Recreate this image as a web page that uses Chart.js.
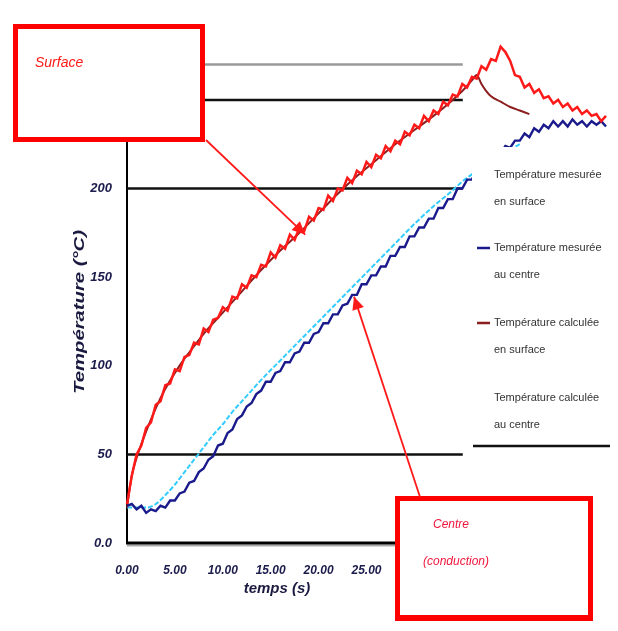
<!DOCTYPE html>
<html>
<head>
<meta charset="utf-8">
<script src="https://cdn.jsdelivr.net/npm/chart.js@4/dist/chart.umd.min.js"></script>
<style>
	body { margin: 0; background: #fff; }
	canvas { display: block; }
</style>
</head>
<body>
<canvas id="graph" width="618" height="631"></canvas>
<script>
// temps (s) des mesures
const tempsMes = [0,0.5,1,1.5,2,2.5,3,3.5,4,4.5,5,5.5,6,6.5,7,7.5,8,8.5,9,9.5,
	10,10.5,11,11.5,12,12.5,13,13.5,14,14.5,15,15.5,16,16.5,17,17.5,18,18.5,19,19.5,
	20,20.5,21,21.5,22,22.5,23,23.5,24,24.5,25,25.5,26,26.5,27,27.5,28,28.5,29,29.5,
	30,30.5,31,31.5,32,32.5,33,33.5,34,34.5,35,35.5,36,36.5,37,37.5,38,38.5,39,39.5,
	40,40.5,41,41.5,42,42.5,43,43.5,44,44.5,45,45.5,46,46.5,47,47.5,48,48.5,49,49.5,50,50.5];
const surfaceMesuree = [22,38,50,55,65,68,78,80,89,90,98,97,105,106,113,112,121,119,126,127,
	133,131,139,138,146,144,151,150,157,156,164,161,168,166,174,171,178,176,184,182,
	189,188,196,193,200,199,206,203,210,208,215,212,219,217,224,221,227,225,232,230,
	236,234,241,238,244,242,249,247,253,252,259,257,263,262,269,267,273,272,280,277,
	272,264,263,257,259,254,256,251,252,248,250,246,248,244,246,242,244,241,242,238,241,239];
const centreMesure = [21,22,19,21,17,19,18,21,20,24,24,28,29,34,35,40,42,47,49,55,
	56,62,64,70,72,77,79,84,86,91,91,96,97,102,102,107,108,113,113,118,
	119,124,124,129,129,134,135,140,140,146,146,151,151,156,156,162,162,167,167,173,
	173,178,178,183,183,189,189,194,194,200,200,205,205,211,211,216,216,220,220,224,
	223,227,227,231,229,234,232,236,234,238,235,238,235,239,236,238,235,238,236,238,235,237];

const tempsCalcSurface = [0,0.5,1,2,3,4,5,6,7,8,10,12,14,16,18,20,22,24,26,28,30,32,34,35,36,36.5,37,37.5,38,39,40,41,42];
const surfaceCalculee = [20,38,48,63,76,87,96,104,111,118,130,142,154,165,175,186,197,207,216,225,233,241,250,255,261,264,259,255,252,249,246,244,242];

const tempsCalcCentre = [0,1,2,3,4,5,6,7,8,9,10,11,12,13,14,16,18,20,22,24,26,28,30,32,34,35,36,38,40,41];
const centreCalcule = [20,20,20,22,27,33,40,47,54,61,67,74,80,86,92,103,114,125,136,147,158,169,180,190,199,204,208,216,222,225];

const yTicks = [0,50,100,150,200,250];
const lignesNoires = [50,200,250];
const ligneGrise = 270;
const finLignes = 35.05;

const legendeTextes = [
	['Température mesurée', 'en surface'],
	['Température mesurée', 'au centre'],
	['Température calculée', 'en surface'],
	['Température calculée', 'au centre'],
];

const pts = (xs, ys) => xs.map((x, i) => ({x: x, y: ys[i]}));

const tickColor = '#1c1c4c';
const boxRed = '#ff0000';

function arrow(ctx, x0, y0, x1, y1) {
	ctx.beginPath();
	ctx.moveTo(x0, y0);
	ctx.lineTo(x1, y1);
	ctx.stroke();
	let a = Math.atan2(y1 - y0, x1 - x0);
	let len = 13, w = 6;
	ctx.beginPath();
	ctx.moveTo(x1, y1);
	ctx.lineTo(x1 - len*Math.cos(a) + w*Math.sin(a), y1 - len*Math.sin(a) - w*Math.cos(a));
	ctx.lineTo(x1 - len*Math.cos(a) - w*Math.sin(a), y1 - len*Math.sin(a) + w*Math.cos(a));
	ctx.closePath();
	ctx.fill();
}

const decor = {
	id: 'decor',
	beforeDatasetsDraw(chart) {
		const ctx = chart.ctx, x = chart.scales.x, y = chart.scales.y;
		ctx.save();
		ctx.lineWidth = 2.5;
		ctx.strokeStyle = '#111';
		lignesNoires.forEach(v => {
			ctx.beginPath();
			ctx.moveTo(x.getPixelForValue(0), y.getPixelForValue(v));
			ctx.lineTo(x.getPixelForValue(finLignes), y.getPixelForValue(v));
			ctx.stroke();
		});
		ctx.strokeStyle = '#9a9a9a';
		ctx.beginPath();
		ctx.moveTo(x.getPixelForValue(0), y.getPixelForValue(ligneGrise));
		ctx.lineTo(x.getPixelForValue(finLignes), y.getPixelForValue(ligneGrise));
		ctx.stroke();

		// axe des x (s'arrête sous le cadre "Centre")
		const y0 = y.getPixelForValue(0);
		ctx.strokeStyle = '#aaa';
		ctx.lineWidth = 2;
		ctx.beginPath();
		ctx.moveTo(x.left, y0 + 2.5);
		ctx.lineTo(400, y0 + 2.5);
		ctx.stroke();
		ctx.strokeStyle = '#000';
		ctx.lineWidth = 3;
		ctx.beginPath();
		ctx.moveTo(x.left - 1, y0);
		ctx.lineTo(400, y0);
		ctx.stroke();
		ctx.restore();
	},
	afterDraw(chart) {
		const ctx = chart.ctx, x = chart.scales.x, y = chart.scales.y;
		ctx.save();

		// légende
		ctx.fillStyle = '#fff';
		ctx.fillRect(472, 147, 146, 303);
		ctx.font = '11px "Liberation Sans", Arial';
		ctx.textBaseline = 'middle';
		const ys = [175, 248, 323, 398];
		legendeTextes.forEach((t, i) => {
			const ds = chart.data.datasets[i];
			if (i === 1 || i === 2) {
				ctx.strokeStyle = ds.borderColor;
				ctx.lineWidth = 2.5;
				ctx.beginPath();
				ctx.moveTo(477, ys[i]);
				ctx.lineTo(490, ys[i]);
				ctx.stroke();
			}
			ctx.fillStyle = '#333';
			ctx.fillText(t[0], 494, ys[i]);
			ctx.fillText(t[1], 494, ys[i] + 27);
		});
		ctx.strokeStyle = '#111';
		ctx.lineWidth = 2.5;
		ctx.beginPath();
		ctx.moveTo(473, 446);
		ctx.lineTo(610, 446);
		ctx.stroke();

		// titres des axes
		ctx.fillStyle = '#1a1a40';
		ctx.textAlign = 'center';
		ctx.save();
		ctx.translate(80, 312);
		ctx.rotate(-Math.PI/2);
		ctx.scale(1.35, 1);
		ctx.font = 'bold italic 15px "Liberation Sans", Arial';
		ctx.fillText('Température (°C)', 0, 0);
		ctx.restore();
		ctx.font = 'bold italic 15px "Liberation Sans", Arial';
		ctx.fillText('temps (s)', 277, 589);

		// cadres
		ctx.fillStyle = '#fff';
		ctx.strokeStyle = boxRed;
		ctx.lineWidth = 5;
		ctx.fillRect(15, 26, 188, 114);
		ctx.strokeRect(15.5, 26.5, 187, 113);
		ctx.fillRect(397, 498, 194, 120);
		ctx.strokeRect(397.5, 498.5, 193, 119);
		ctx.lineWidth = 3;
		ctx.beginPath();
		ctx.moveTo(395, 619.5);
		ctx.lineTo(593, 619.5);
		ctx.stroke();

		ctx.fillStyle = '#ff1a1a';
		ctx.textAlign = 'left';
		ctx.font = 'italic 14px "Liberation Sans", Arial';
		ctx.fillText('Surface', 35, 63);
		ctx.fillStyle = '#f0163c';
		ctx.font = 'italic 12px "Liberation Sans", Arial';
		ctx.textAlign = 'center';
		ctx.fillText('Centre', 451, 525);
		ctx.fillText('(conduction)', 456, 562);

		// flèches
		ctx.strokeStyle = '#ff1a1a';
		ctx.fillStyle = '#ff1a1a';
		ctx.lineWidth = 1.8;
		arrow(ctx, 206, 140, x.getPixelForValue(18.6), y.getPixelForValue(174));
		arrow(ctx, 420, 497, x.getPixelForValue(23.7), y.getPixelForValue(139));

		ctx.restore();
	}
};

new Chart(document.getElementById('graph'), {
	type: 'line',
	data: {
		datasets: [
			{
				label: 'Température mesurée en surface',
				data: pts(tempsMes, surfaceMesuree),
				borderColor: '#ff1a1a',
				borderWidth: 2.5,
				pointRadius: 0,
				order: 1,
			},
			{
				label: 'Température mesurée au centre',
				data: pts(tempsMes, centreMesure),
				borderColor: '#1a1a8c',
				borderWidth: 2.4,
				pointRadius: 0,
				order: 2,
			},
			{
				label: 'Température calculée en surface',
				data: pts(tempsCalcSurface, surfaceCalculee),
				borderColor: '#8b1e1e',
				borderWidth: 2,
				pointRadius: 0,
				cubicInterpolationMode: 'monotone',
				order: 3,
			},
			{
				label: 'Température calculée au centre',
				data: pts(tempsCalcCentre, centreCalcule),
				borderColor: '#33ccff',
				borderWidth: 2,
				borderDash: [5, 2],
				pointRadius: 0,
				cubicInterpolationMode: 'monotone',
				order: 4,
			},
		]
	},
	options: {
		responsive: false,
		animation: false,
		clip: false,
		layout: {padding: {top: 29, right: 6, left: 0, bottom: 0}},
		plugins: {
			legend: {display: false},
			tooltip: {enabled: false},
		},
		scales: {
			x: {
				type: 'linear',
				min: 0,
				max: 50,
				grid: {display: false},
				border: {display: false},
				ticks: {
					stepSize: 5,
					padding: 12,
					maxRotation: 0,
					color: tickColor,
					font: {family: '"Liberation Sans", Arial', size: 12, weight: 'bold', style: 'italic'},
					callback: v => v >= 50 ? '' : v.toFixed(2),
				},
				afterFit: s => { s.height = 88; },
			},
			y: {
				type: 'linear',
				min: 0,
				max: 290,
				grid: {display: false},
				border: {display: true, color: '#000', width: 2},
				afterBuildTicks: s => { s.ticks = yTicks.map(v => ({value: v})); },
				ticks: {
					padding: 7,
					color: tickColor,
					font: {family: '"Liberation Sans", Arial', size: 13, weight: 'bold', style: 'italic'},
					callback: v => v === 0 ? '0.0' : String(v),
				},
				afterFit: s => { s.width = 127; },
			},
		},
	},
	plugins: [decor],
});
</script>
</body>
</html>
